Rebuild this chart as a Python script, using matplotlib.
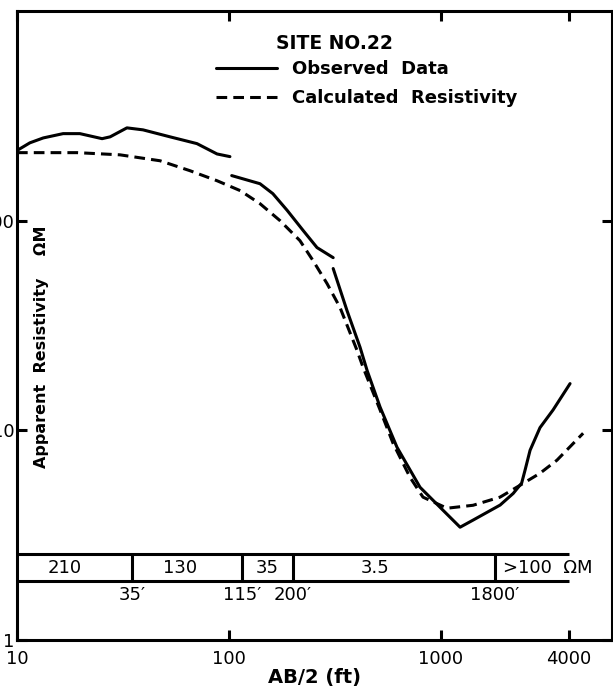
import matplotlib
matplotlib.use('Agg')
import matplotlib.pyplot as plt
from matplotlib.ticker import FixedLocator, NullLocator, FixedFormatter

# observed apparent resistivity, drawn as three separate pieces
obs1_x = [10, 11.5, 13.3, 16.5, 19.8, 25.2, 27.5, 33.0, 39.3, 52.7, 70.6, 87.8, 101]
obs1_y = [216, 235, 248, 260, 260, 246, 251, 277, 271, 251, 233, 208, 202]
obs2_x = [103, 140, 161, 188, 224, 260, 310]
obs2_y = [164, 150, 134.5, 112, 89.6, 74.4, 66.6]
obs3_x = [310, 360, 415, 448, 516, 620, 796, 1021, 1230, 1416, 1900, 2190,
          2400, 2490, 2630, 2930, 3375, 4060]
obs3_y = [59.1, 37.3, 24.9, 19.3, 12.9, 8.30, 5.35, 4.16, 3.45, 3.73, 4.4, 5.0,
          5.6, 6.45, 8.03, 10.3, 12.5, 16.7]

# calculated resistivity curve
calc_x = [10, 19.2, 30.6, 47.3, 65.5, 87.8, 113, 140, 174, 216, 249, 290, 334,
          402, 429, 516, 594, 714, 822, 1067, 1416, 1898, 2360, 2930, 3520, 4680]
calc_y = [211, 211, 206, 193, 173, 155, 139, 120.5, 100, 80.3, 64.5, 50.1, 38.5,
          24.0, 19.95, 12.5, 8.67, 5.97, 4.80, 4.25, 4.39, 4.80, 5.47, 6.24, 7.20, 9.68]

# layer model
layer_depths = [35, 115, 200, 1800]
depth_labels = ["35′", "115′", "200′", "1800′"]
layer_res = ["210", "130", "35", "3.5", ">100  ΩM"]
layer_res_x = [16.8, 58.7, 151, 489, 1960]

xticks = [10, 100, 1000, 4000]
xtick_labels = ["10", "100", "1000", "4000"]
yticks = [1, 10, 100]
ytick_labels = ["1", "10", "100"]

fig = plt.figure(figsize=(6.13, 6.90), dpi=100)
ax = fig.add_axes([0.0277, 0.0725, 0.9706, 0.9116])
ax.set_xscale('log')
ax.set_yscale('log')
ax.set_xlim(10, 6400)
ax.set_ylim(1, 1000)

lw = 2.2
ax.plot(obs1_x, obs1_y, color='k', lw=lw, solid_capstyle='round', label='Observed  Data')
ax.plot(obs2_x, obs2_y, color='k', lw=lw, solid_capstyle='round')
ax.plot(obs3_x, obs3_y, color='k', lw=lw, solid_capstyle='round')
ax.plot(calc_x, calc_y, color='k', lw=lw, linestyle=(0, (3.5, 2.0)),
        label='Calculated  Resistivity')

# layer band
band_top, band_bot = 2.57, 1.91
ax.hlines([band_top, band_bot], 10, 4000, color='k', lw=lw)
ax.vlines(layer_depths, band_bot, band_top, color='k', lw=lw)
for xv, s in zip(layer_res_x, layer_res):
    ax.text(xv, 2.2, s, ha='center' if not s.startswith('>') else 'left',
            va='center', fontsize=13)
for d, s in zip(layer_depths, depth_labels):
    ax.text(d, 1.64, s, ha='center', va='center', fontsize=13)

for sp in ax.spines.values():
    sp.set_linewidth(lw)

ax.xaxis.set_major_locator(FixedLocator(xticks))
ax.xaxis.set_major_formatter(FixedFormatter(xtick_labels))
ax.xaxis.set_minor_locator(NullLocator())
ax.yaxis.set_major_locator(FixedLocator(yticks))
ax.yaxis.set_major_formatter(FixedFormatter(ytick_labels))
ax.yaxis.set_minor_locator(NullLocator())
ax.tick_params(direction='in', length=7, width=lw, labelsize=13,
               top=True, right=True)
ax.tick_params(axis='x', pad=7)
ax.tick_params(axis='y', pad=2)

ax.text(0.042, 0.466, "Apparent  Resistivity    ΩM", rotation=90,
        transform=ax.transAxes, ha='center', va='center',
        fontsize=11.5, fontweight='bold')
fig.text(315 / 613, 1 - 678 / 690, "AB/2 (ft)", ha='center', va='center',
         fontsize=14, fontweight='bold')

ax.text(0.534, 0.949, "SITE NO.22", transform=ax.transAxes, ha='center',
        va='center', fontsize=13.5, fontweight='bold')
leg = ax.legend(loc='upper left', bbox_to_anchor=(0.334, 0.922), frameon=False,
                borderaxespad=0, borderpad=0, handlelength=3.4,
                handletextpad=0.8, labelspacing=0.62,
                prop={'size': 13, 'weight': 'bold'})

fig.savefig('out.png', dpi=100)
